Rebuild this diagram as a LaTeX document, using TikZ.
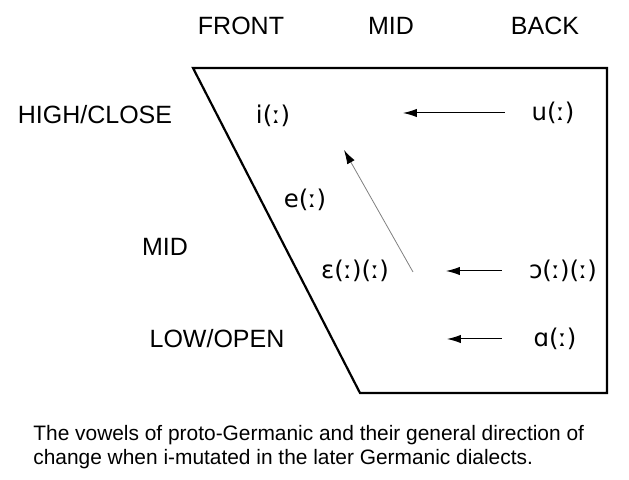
\documentclass[tikz,border=0pt]{standalone}
\usepackage{fontspec}
\setmainfont{Liberation Sans}
\newfontfamily\ipafont{DejaVu Sans}
\usetikzlibrary{arrows.meta}
\tikzset{
  lbl/.style={font=\fontsize{12.5pt}{15pt}\selectfont, inner sep=0pt},
  vow/.style={font=\fontsize{12.2pt}{14pt}\selectfont\ipafont, inner sep=0pt},
  shiftarrow/.style={-{Latex[length=7pt,width=4.2pt]}, line width=0.5pt, black},
  raisearrow/.style={-{Latex[length=7pt,width=4.2pt,black]}, line width=0.4pt, gray},
  chart/.style={line width=1.1pt, line join=miter}
}
\begin{document}
\begin{tikzpicture}[x=0.5pt,y=-0.5pt]
\useasboundingbox (0,0) rectangle (629,480);
\draw[chart] (193,68) -- (607,68) -- (607,393) -- (360,393) -- cycle;
\node[lbl] (front) at (241,26) {FRONT};
\node[lbl] (midtop) at (391,26) {MID};
\node[lbl] (back) at (545,26) {BACK};
\node[lbl] (high) at (95,115) {HIGH/CLOSE};
\node[lbl] (midleft) at (165,247) {MID};
\node[lbl] (low) at (217,339) {LOW/OPEN};
\node[vow] (i) at (273,116) {i(ː)};
\node[vow] (u) at (553,113) {u(ː)};
\node[vow] (e) at (305,200) {e(ː)};
\node[vow] (eps) at (355,271) {ɛ(ː)(ː)};
\node[vow] (oo) at (563,271) {ɔ(ː)(ː)};
\node[vow] (a) at (555,339) {ɑ(ː)};
\coordinate (ua) at (505,113);
\coordinate (ub) at (403,113);
\coordinate (oa) at (502,271);
\coordinate (ob) at (446,271);
\coordinate (aa) at (502,339);
\coordinate (ab) at (447,339);
\coordinate (da) at (413,272);
\coordinate (db) at (344,150);
\draw[shiftarrow] (ua) -- (ub);
\draw[shiftarrow] (oa) -- (ob);
\draw[shiftarrow] (aa) -- (ab);
\draw[raisearrow] (da) -- (db);
\node[font=\fontsize{10.45pt}{12pt}\selectfont, align=left, anchor=north west, inner sep=0pt] (cap) at (33,425)
  {The vowels of proto-Germanic and their general direction of\\change when i-mutated in the later Germanic dialects.};
\end{tikzpicture}
\end{document}
